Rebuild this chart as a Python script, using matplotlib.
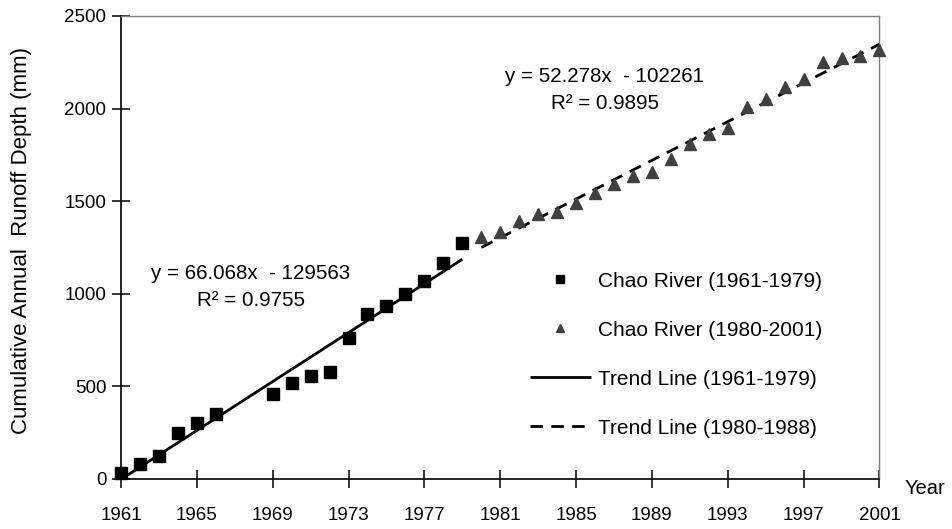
"""
Double-mass style plot of cumulative annual runoff depth for the Chao River,
with separate linear trends before and after 1980.

Output: out.png
"""

import numpy as np
import matplotlib.pyplot as plt

plt.rcParams["font.family"] = ["Liberation Sans", "DejaVu Sans"]

# ── Data ──────────────────────────────────────────────────────────────────────
years_early = [1961, 1962, 1963, 1964, 1965, 1966, 1969, 1970, 1971, 1972,
               1973, 1974, 1975, 1976, 1977, 1978, 1979]
runoff_early = [29, 79, 123, 245, 303, 350, 458, 519, 555, 577,
                759, 890, 935, 998, 1067, 1164, 1272]

years_late = list(range(1980, 2002))
runoff_late = [1304, 1335, 1392, 1429, 1439, 1488, 1542, 1591, 1635, 1657,
               1726, 1808, 1861, 1896, 2007, 2050, 2118, 2158, 2253, 2271,
               2284, 2316]

# fitted trends (slope, intercept, R²) and the span each is drawn over
trend_early = (66.068, -129563, 0.9755)
trend_late = (52.278, -102261, 0.9895)
span_early = (1961, 1979)
span_late = (1980, 2001)

x_ticks = list(range(1961, 2002, 4))
y_ticks = [0, 500, 1000, 1500, 2000, 2500]

# ── Figure ────────────────────────────────────────────────────────────────────
fig = plt.figure(figsize=(9.52, 5.29), dpi=100)
ax = fig.add_axes([0.1271, 0.0951, 0.7967, 0.8747])

ax.plot(years_early, runoff_early, ls="none", marker="s", ms=8.5,
        color="black", clip_on=False, zorder=3, label="Chao River (1961-1979)")
ax.plot(years_late, runoff_late, ls="none", marker="^", ms=8,
        color="#404040", clip_on=False, zorder=3, label="Chao River (1980-2001)")

xe = np.array(span_early, dtype=float)
ax.plot(xe, trend_early[0] * xe + trend_early[1], color="black", lw=2,
        solid_capstyle="butt", label="Trend Line (1961-1979)")
xl = np.array(span_late, dtype=float)
ax.plot(xl, trend_late[0] * xl + trend_late[1], color="black", lw=2,
        ls=(0, (4.5, 3)), dash_capstyle="butt", label="Trend Line (1980-1988)")

ax.text(1967.85, 1037,
        f"y = {trend_early[0]:.3f}x  - {-trend_early[1]}\nR² = {trend_early[2]:.4f}",
        ha="center", va="center", fontsize=14.8, linespacing=1.55)
ax.text(1986.5, 2100,
        f"y = {trend_late[0]:.3f}x  - {-trend_late[1]}\nR² = {trend_late[2]:.4f}",
        ha="center", va="center", fontsize=14.8, linespacing=1.55)

# ── Axes styling ──────────────────────────────────────────────────────────────
ax.set_xlim(1961, 2001)
ax.set_ylim(0, 2500)
ax.set_xticks(x_ticks)
ax.set_yticks(y_ticks)
ax.tick_params(direction="inout", length=13, width=1.1, labelsize=13.5,
               colors="black")
ax.tick_params(axis="x", pad=14)
ax.tick_params(axis="y", pad=4)

for side in ("left", "bottom"):
    ax.spines[side].set_color("black")
    ax.spines[side].set_linewidth(1.2)
for side in ("top", "right"):
    ax.spines[side].set_color("#808080")
    ax.spines[side].set_linewidth(1.0)

fig.text(22 / 952, 1 - 240 / 529, "Cumulative Annual  Runoff Depth (mm)",
         rotation=90, ha="center", va="center", fontsize=16)
fig.text(905 / 952, 1 - 488 / 529, "Year", ha="left", va="center", fontsize=14.5)

ax.legend(loc="upper left", bbox_to_anchor=(511.5 / 952, 1 - 253 / 529),
          bbox_transform=fig.transFigure, frameon=False, fontsize=15,
          handlelength=2.9, handletextpad=0.35, labelspacing=1.44,
          markerscale=0.75)

fig.savefig("out.png", dpi=100)
